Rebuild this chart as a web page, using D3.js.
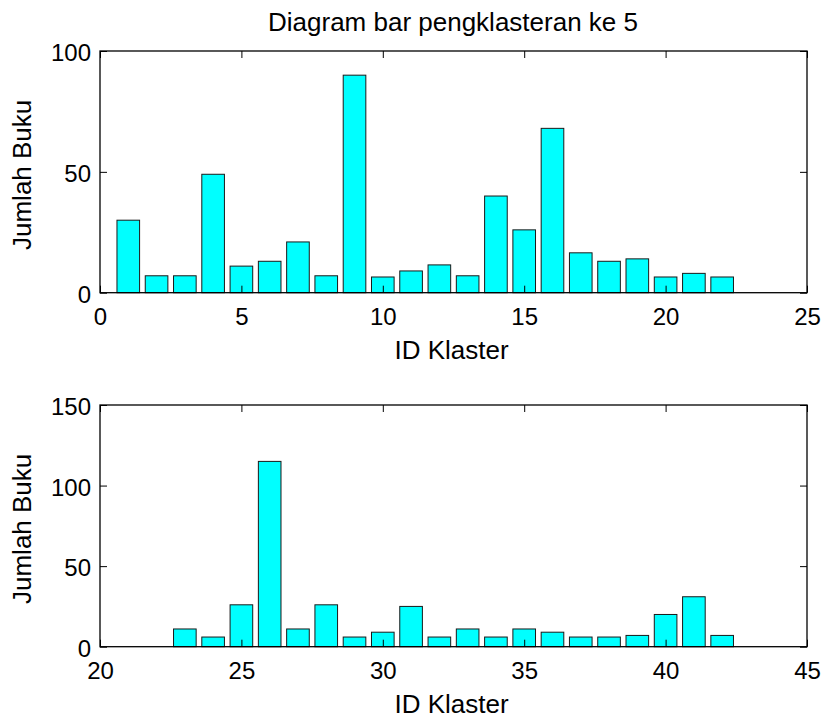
<!DOCTYPE html>
<html><head><meta charset="utf-8">
<script src="https://cdn.jsdelivr.net/npm/d3@7"></script>
<style>body{margin:0;background:#fff}text{font-family:"Liberation Sans",Arial,sans-serif;fill:#000}</style>
</head><body><svg id="c" width="824" height="719"></svg>
<script>
const topIds = d3.range(1, 23);
const topValues = [30,7,7,49,11,13,21,7,90,6.5,9,11.5,7,40,26,68,16.5,13,14,6.5,8,6.5];
const botIds = d3.range(23, 43);
const botValues = [11,6,26,115,11,26,6,9,25,6,11,6,11,9,6,6,7,20,31,7];
const topXTicks = [0,5,10,15,20,25];
const botXTicks = [20,25,30,35,40,45];
const topYTicks = [0,50,100];
const botYTicks = [0,50,100,150];
const titleText = "Diagram bar pengklasteran ke 5";
const xLabel = "ID Klaster";
const yLabel = "Jumlah Buku";

const svg = d3.select("#c");
const FS = 24, LFS = 26, TL = 7;

function panel(ids, vals, xDom, xTicks, yDom, yTicks, top, bottom) {
  const left = 100, right = 807;
  const x = d3.scaleLinear().domain(xDom).range([left, right]);
  const y = d3.scaleLinear().domain(yDom).range([bottom, top]);
  const g = svg.append("g");
  const bw = x(0.8) - x(0);
  g.selectAll("rect.bar").data(ids).join("rect")
    .attr("x", (d) => x(d - 0.4)).attr("width", bw)
    .attr("y", (d, i) => y(vals[i])).attr("height", (d, i) => y(0) - y(vals[i]))
    .attr("fill", "#00ffff").attr("stroke", "#1a1a1a").attr("stroke-width", 1);
  g.append("rect").attr("x", left).attr("y", top).attr("width", right - left).attr("height", bottom - top)
    .attr("fill", "none").attr("stroke", "#000").attr("stroke-width", 1.3);
  const ax = d3.axisBottom(x).tickValues(xTicks).tickSizeInner(-TL).tickSizeOuter(0).tickPadding(15);
  const gx = g.append("g").attr("transform", `translate(0,${bottom})`).call(ax);
  const axT = d3.axisTop(x).tickValues(xTicks).tickSizeInner(-TL).tickSizeOuter(0).tickFormat("");
  const gxt = g.append("g").attr("transform", `translate(0,${top})`).call(axT);
  const ay = d3.axisLeft(y).tickValues(yTicks).tickSizeInner(-TL).tickSizeOuter(0).tickPadding(9);
  const gy = g.append("g").attr("transform", `translate(${left},0)`).call(ay);
  const ayR = d3.axisRight(y).tickValues(yTicks).tickSizeInner(-TL).tickSizeOuter(0).tickFormat("");
  const gyr = g.append("g").attr("transform", `translate(${right},0)`).call(ayR);
  [gx, gxt, gy, gyr].forEach(a => {
    a.select(".domain").remove();
    a.selectAll(".tick line").attr("stroke", "#000");
    a.selectAll("text").style("font-size", FS + "px").style("font-family", '"Liberation Sans",Arial,sans-serif').attr("fill", "#000");
  });
  gy.selectAll("text").attr("dy", "0.4em");
  g.append("text").attr("x", (left + right) / 2 - 2).attr("y", bottom + 66).attr("text-anchor", "middle")
    .style("font-size", LFS + "px").text(xLabel);
  g.append("text").attr("transform", `translate(31,${(top + bottom) / 2 + 3}) rotate(-90)`).attr("text-anchor", "middle")
    .style("font-size", LFS + "px").text(yLabel);
}

panel(topIds, topValues, [0, 25], topXTicks, [0, 100], topYTicks, 51, 292.7);
panel(botIds, botValues, [20, 45], botXTicks, [0, 150], botYTicks, 405, 646.7);

svg.append("text").attr("x", 453).attr("y", 31).attr("text-anchor", "middle")
  .style("font-size", LFS + "px").text(titleText);
</script></body></html>
